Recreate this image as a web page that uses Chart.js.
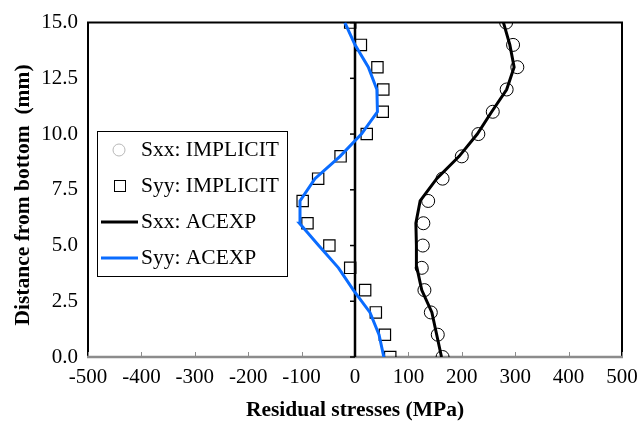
<!DOCTYPE html>
<html>
<head>
<meta charset="utf-8">
<script src="https://cdn.jsdelivr.net/npm/chart.js@4/dist/chart.umd.min.js"></script>
<style>
  html, body { margin: 0; padding: 0; background: #fff; }
  #wrap { width: 638px; height: 421px; }
</style>
</head>
<body>
<div id="wrap"><canvas id="chart" width="638" height="421"></canvas></div>
<script>
// Distance depuis le bas (mm)
const depth = [0, 1, 2, 3, 4, 5, 6, 7, 8, 9, 10, 11, 12, 13, 14, 15];

// Contraintes résiduelles (MPa)
const sxxImplicit = [164, 155, 142, 130, 125, 127, 128, 137, 164, 200, 231, 258, 284, 304, 296, 283];
const syyImplicit = [66, 56, 39, 19, -9, -48, -89, -98, -69, -27, 22, 52, 53, 42, 11, -9];
const sxxAcexp = [162, 153, 144, 125, 116, 115, 114, 122, 153, 195, 229, 256, 284, 298, 290, 278];
const syyAcexp = [54, 45, 28, -3, -31, -68, -104, -103, -75, -28, 12, 42, 41, 25, 0, -19];

const xTicks = [-500, -400, -300, -200, -100, 0, 100, 200, 300, 400, 500];
const yTicks = [0, 2.5, 5, 7.5, 10, 12.5, 15];

const legendLabels = ['Sxx: IMPLICIT', 'Syy: IMPLICIT', 'Sxx: ACEXP', 'Syy: ACEXP'];
const yTitle = 'Distance from bottom  (mm)';

const colors = {
    black: '#000000',
    blue: '#0a6cff',
    axisGrey: '#8c8c8c',
    legendCircle: '#b8b8b8'
};

const serif = '"Liberation Serif", "Times New Roman", serif';
Chart.defaults.font.family = serif;
Chart.defaults.font.size = 21;
Chart.defaults.color = '#000';

function toPoints(values) {
    return depth.map((d, i) => ({ x: values[i], y: d }));
}

/**
 * Cadre, axe vertical à x = 0, graduations, titre vertical et légende encadrée
 */
const framePlugin = {
    id: 'frame',
    beforeDatasetsDraw(chart) {
        const { ctx, chartArea, scales } = chart;
        const { left, right, top, bottom } = chartArea;
        ctx.save();
        // cadre haut / droite / gauche
        ctx.strokeStyle = colors.black;
        ctx.lineWidth = 2;
        ctx.beginPath();
        ctx.moveTo(left, bottom);
        ctx.lineTo(left, top);
        ctx.lineTo(right, top);
        ctx.lineTo(right, bottom);
        ctx.stroke();

        // axe horizontal gris avec graduations vers l'intérieur
        ctx.strokeStyle = colors.axisGrey;
        ctx.lineWidth = 2.5;
        ctx.beginPath();
        ctx.moveTo(left - 1, bottom);
        ctx.lineTo(right + 1, bottom);
        ctx.stroke();
        ctx.lineWidth = 1;
        xTicks.forEach(v => {
            const x = Math.round(scales.x.getPixelForValue(v)) + 0.5;
            ctx.beginPath();
            ctx.moveTo(x, bottom);
            ctx.lineTo(x, bottom - 5);
            ctx.stroke();
        });

        // axe vertical à 0 MPa
        const x0 = scales.x.getPixelForValue(0);
        ctx.strokeStyle = colors.black;
        ctx.lineWidth = 2.5;
        ctx.beginPath();
        ctx.moveTo(x0, top);
        ctx.lineTo(x0, bottom);
        ctx.stroke();
        ctx.lineWidth = 1.5;
        yTicks.forEach(v => {
            const y = scales.y.getPixelForValue(v);
            ctx.beginPath();
            ctx.moveTo(x0, y);
            ctx.lineTo(x0 - 5, y);
            ctx.stroke();
        });
        ctx.restore();
    },
    afterDraw(chart) {
        const { ctx } = chart;

        // titre de l'axe vertical
        ctx.save();
        ctx.translate(23, 195);
        ctx.rotate(-Math.PI / 2);
        ctx.font = 'bold 21.5px ' + serif;
        ctx.fillStyle = colors.black;
        ctx.textAlign = 'center';
        ctx.textBaseline = 'middle';
        ctx.fillText(yTitle, 0, 0);
        ctx.restore();

        // légende
        const box = { x: 97, y: 131, w: 190, h: 145 };
        ctx.save();
        ctx.fillStyle = '#fff';
        ctx.fillRect(box.x, box.y, box.w, box.h);
        ctx.strokeStyle = colors.black;
        ctx.lineWidth = 1;
        ctx.strokeRect(box.x + 0.5, box.y + 0.5, box.w, box.h);

        ctx.font = '21.5px ' + serif;
        ctx.fillStyle = colors.black;
        ctx.textBaseline = 'middle';
        const rowY = [150, 186, 222, 258];
        legendLabels.forEach((label, i) => {
            const y = rowY[i];
            if (i === 0) {
                ctx.strokeStyle = colors.legendCircle;
                ctx.lineWidth = 1;
                ctx.beginPath();
                ctx.arc(119, y, 6, 0, Math.PI * 2);
                ctx.stroke();
            } else if (i === 1) {
                ctx.strokeStyle = colors.black;
                ctx.lineWidth = 1;
                ctx.strokeRect(114.5, y - 5.5, 11, 11);
            } else {
                ctx.strokeStyle = i === 2 ? colors.black : colors.blue;
                ctx.lineWidth = 3;
                ctx.beginPath();
                ctx.moveTo(101, y);
                ctx.lineTo(138, y);
                ctx.stroke();
            }
            ctx.fillText(label, 141, y);
        });
        ctx.restore();
    }
};

new Chart(document.getElementById('chart'), {
    type: 'scatter',
    data: {
        datasets: [
            {
                label: legendLabels[0],
                data: toPoints(sxxImplicit),
                showLine: false,
                pointStyle: 'circle',
                pointRadius: 6.5,
                borderColor: colors.black,
                backgroundColor: 'rgba(0,0,0,0)',
                borderWidth: 1,
                order: 2
            },
            {
                label: legendLabels[1],
                data: toPoints(syyImplicit),
                showLine: false,
                pointStyle: 'rect',
                pointRadius: 8,
                borderColor: colors.black,
                backgroundColor: 'rgba(0,0,0,0)',
                borderWidth: 1.2,
                order: 2
            },
            {
                label: legendLabels[2],
                data: toPoints(sxxAcexp),
                showLine: true,
                borderColor: colors.black,
                borderWidth: 3,
                pointRadius: 0,
                tension: 0,
                order: 1
            },
            {
                label: legendLabels[3],
                data: toPoints(syyAcexp),
                showLine: true,
                borderColor: colors.blue,
                borderWidth: 3,
                pointRadius: 0,
                tension: 0,
                order: 1
            }
        ]
    },
    options: {
        responsive: false,
        animation: false,
        events: [],
        layout: { padding: { top: 22, right: 16, left: 0, bottom: 0 } },
        plugins: {
            legend: { display: false },
            tooltip: { enabled: false }
        },
        scales: {
            x: {
                type: 'linear',
                min: -500,
                max: 500,
                afterBuildTicks: scale => { scale.ticks = xTicks.map(v => ({ value: v })); },
                afterFit: scale => { scale.height = 64; },
                grid: {
                    display: true,
                    drawOnChartArea: false,
                    drawTicks: true,
                    tickLength: 8,
                    color: 'rgba(0,0,0,0)'
                },
                border: { display: false },
                ticks: {
                    padding: 0,
                    maxRotation: 0,
                    autoSkip: false,
                    callback: v => String(v)
                },
                title: {
                    display: true,
                    text: 'Residual stresses (MPa)',
                    font: { size: 21.5, weight: 'bold', lineHeight: 1 },
                    padding: { top: 0, bottom: 0 }
                }
            },
            y: {
                type: 'linear',
                min: 0,
                max: 15,
                afterBuildTicks: scale => { scale.ticks = yTicks.map(v => ({ value: v })); },
                afterFit: scale => { scale.width = 88; },
                grid: { display: false, drawTicks: false },
                border: { display: false },
                ticks: {
                    padding: 10,
                    autoSkip: false,
                    callback: v => v.toFixed(1)
                },
                title: { display: false }
            }
        }
    },
    plugins: [framePlugin]
});
</script>
</body>
</html>
